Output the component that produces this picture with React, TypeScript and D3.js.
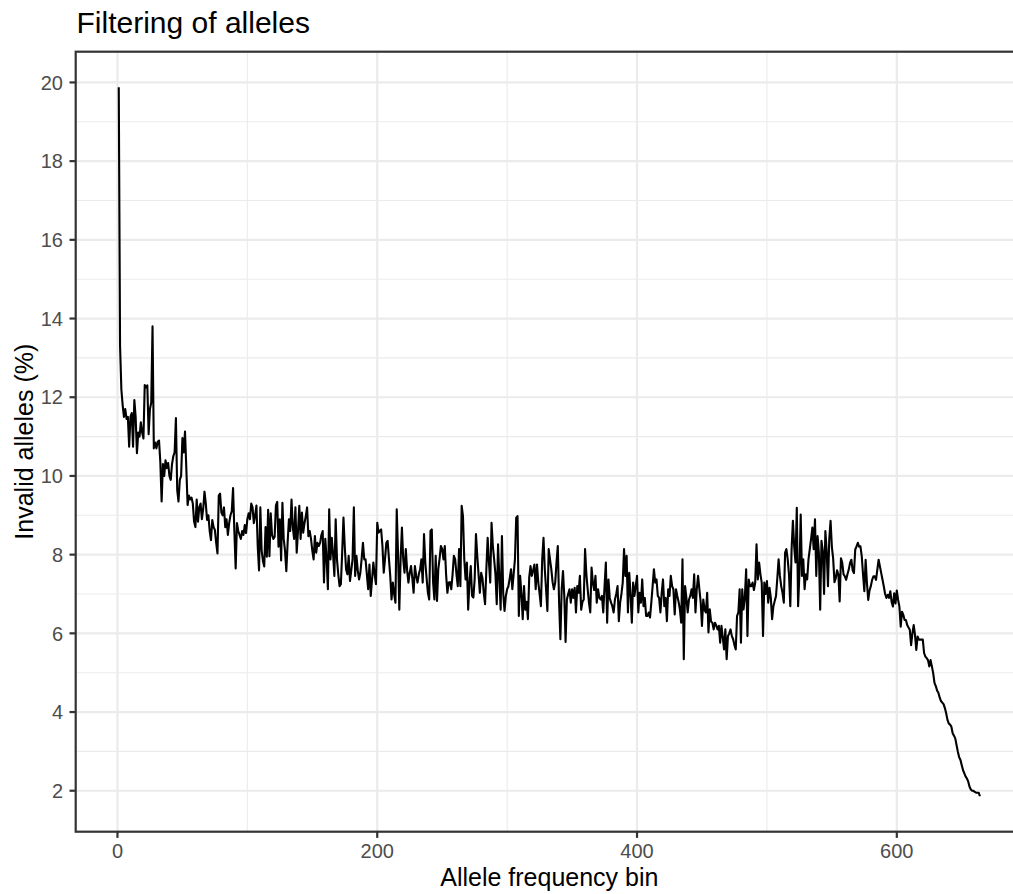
import React from "react";
import * as d3 from "d3";

// Invalid alleles (%) for allele frequency bins 1..664
const invalidPct: number[] = [
  19.88, 13.3, 12.2, 11.8, 11.5, 11.7, 11.45, 11.5, 10.74, 11.5,
  11.6, 10.74, 11.93, 11.5, 10.58, 11.1, 11.0, 11.36, 11.1, 10.95,
  12.31, 12.25, 12.3, 11.06, 11.7, 11.86, 13.8, 10.7, 10.85, 10.7,
  10.87, 10.9, 10.35, 9.35, 10.3, 10.0, 10.4, 10.2, 10.33, 10.0,
  9.9, 10.3, 10.5, 10.6, 11.47, 9.64, 9.35, 9.9, 10.0, 10.96,
  10.6, 11.13, 10.2, 9.26, 9.5, 9.4, 9.45, 9.3, 8.84, 8.7,
  9.4, 8.84, 9.2, 9.3, 8.9, 9.16, 9.6, 9.3, 8.88, 9.0,
  8.6, 8.37, 8.88, 8.7, 8.63, 8.3, 8.03, 9.5, 9.55, 9.07,
  9.0, 9.2, 8.7, 8.9, 8.5, 8.8, 9.0, 9.1, 9.69, 8.6,
  7.65, 8.8, 8.6, 8.5, 8.4, 8.6, 8.5, 8.75, 8.55, 8.9,
  9.05, 8.9, 9.3, 9.2, 8.8, 9.0, 9.25, 8.2, 7.6, 9.2,
  8.1, 7.84, 7.7, 8.7, 7.95, 9.14, 7.96, 9.05, 8.5, 8.4,
  8.45, 9.25, 9.34, 8.2, 8.9, 7.85, 9.32, 8.4, 8.1, 7.58,
  8.3, 8.9, 8.6, 9.4, 8.7, 8.4, 9.2, 8.05, 8.6, 9.24,
  8.4, 9.07, 8.56, 8.8, 8.98, 9.2, 8.47, 8.6, 8.4, 8.1,
  7.88, 8.47, 8.05, 8.3, 8.22, 8.3, 8.5, 8.6, 7.29, 8.4,
  7.9, 7.12, 9.15, 7.88, 8.43, 8.0, 7.46, 8.9, 7.88, 7.5,
  7.2, 7.25, 8.05, 8.94, 8.2, 7.63, 7.5, 7.97, 7.33, 7.6,
  7.88, 9.2, 7.46, 7.97, 7.6, 7.37, 7.54, 7.9, 8.3, 7.88,
  7.88, 7.5, 7.12, 7.75, 6.95, 7.37, 7.8, 7.5, 7.25, 8.81,
  8.56, 8.6, 8.64, 8.22, 7.54, 7.9, 8.3, 8.35, 7.9, 7.46,
  6.86, 7.29, 7.0, 6.78, 9.15, 8.05, 6.6, 7.9, 8.69, 7.88,
  7.54, 8.14, 7.6, 7.29, 7.54, 7.71, 7.4, 7.03, 7.71, 7.46,
  7.29, 7.5, 7.63, 7.88, 7.29, 8.52, 7.8, 7.4, 7.03, 6.86,
  8.6, 8.64, 7.3, 6.86, 7.97, 6.82, 7.63, 7.9, 8.22, 8.14,
  7.88, 8.22, 7.5, 7.03, 7.29, 7.3, 7.12, 7.5, 7.97, 7.88,
  7.5, 7.2, 8.14, 7.2, 9.24, 8.98, 7.88, 7.37, 7.8, 6.6,
  7.29, 7.71, 6.95, 6.91, 7.37, 8.52, 7.97, 7.5, 7.03, 7.54,
  7.4, 7.03, 6.74, 7.63, 8.43, 7.8, 7.29, 8.81, 8.22, 7.88,
  7.5, 6.74, 8.26, 7.4, 6.6, 8.47, 7.0, 6.57, 6.95, 7.12,
  7.2, 7.4, 7.63, 7.12, 7.5, 7.88, 8.94, 8.98, 6.44, 7.46,
  7.0, 6.36, 7.2, 6.6, 6.8, 6.36, 7.42, 7.71, 7.46, 7.6,
  7.75, 7.12, 7.75, 7.29, 7.0, 6.69, 7.88, 8.43, 7.63, 7.1,
  6.57, 8.14, 7.88, 7.63, 7.3, 7.12, 7.29, 7.8, 8.22, 6.78,
  5.85, 7.12, 7.58, 6.95, 5.78, 6.86, 7.0, 7.12, 6.78, 7.12,
  6.9, 7.16, 6.53, 7.2, 7.03, 7.46, 6.6, 6.8, 6.86, 8.14,
  7.5, 7.12, 6.78, 6.53, 7.67, 7.29, 7.1, 7.46, 6.78, 7.12,
  6.9, 6.86, 6.95, 6.53, 7.2, 7.8, 6.27, 7.37, 6.9, 6.78,
  6.69, 6.53, 6.86, 7.0, 7.2, 6.31, 6.78, 7.0, 7.29, 8.14,
  7.46, 7.97, 6.53, 7.54, 7.0, 6.27, 7.29, 6.95, 7.2, 7.46,
  6.53, 7.03, 6.78, 7.37, 6.69, 6.9, 6.44, 6.44, 6.53, 6.4,
  6.78, 7.2, 7.63, 7.29, 7.37, 6.95, 6.9, 6.53, 7.03, 7.37,
  6.69, 6.9, 6.31, 7.12, 6.95, 7.46, 7.2, 7.12, 6.48, 7.12,
  6.95, 6.8, 6.61, 6.27, 7.88, 5.34, 7.2, 6.9, 6.53, 6.86,
  6.95, 7.12, 6.9, 7.5, 6.53, 7.12, 7.46, 7.12, 6.8, 6.19,
  6.86, 6.6, 6.53, 7.03, 6.02, 6.61, 6.3, 6.27, 6.1, 6.27,
  6.2, 6.1, 6.19, 5.76, 6.19, 5.9, 5.59, 6.1, 5.34, 5.93,
  6.0, 6.1, 5.93, 5.85, 5.7, 5.59, 6.44, 6.53, 7.12, 5.76,
  7.12, 6.61, 6.9, 7.63, 5.93, 7.37, 7.2, 7.2, 7.29, 7.1,
  7.29, 8.26, 7.37, 7.8, 7.5, 7.29, 5.93, 7.29, 7.0, 7.33,
  6.78, 7.16, 6.9, 6.36, 6.69, 6.82, 6.95, 7.4, 7.88, 7.46,
  7.2, 7.03, 6.78, 8.05, 8.14, 7.88, 7.5, 6.69, 8.14, 8.86,
  8.2, 7.8, 9.19, 6.69, 7.5, 9.02, 7.46, 7.88, 7.12, 7.5,
  7.37, 7.88, 8.14, 8.4, 8.69, 8.14, 8.9, 7.46, 8.47, 8.05,
  6.6, 8.35, 8.1, 7.0, 8.6, 8.1, 7.2, 8.4, 8.86, 8.2,
  7.9, 7.3, 7.4, 7.6, 7.5, 6.81, 7.91, 7.79, 7.5, 7.45,
  7.36, 7.5, 7.62, 7.79, 7.87, 7.6, 7.53, 8.13, 8.21, 8.3,
  8.2, 8.21, 7.96, 7.5, 7.07, 7.87, 7.28, 6.85, 7.09, 7.2,
  7.36, 7.45, 7.45, 7.36, 7.62, 7.87, 7.7, 7.53, 7.36, 7.19,
  7.0, 6.9, 6.98, 6.9, 7.07, 6.8, 6.68, 7.02, 6.76, 7.09,
  6.85, 6.68, 6.17, 6.55, 6.47, 6.34, 6.34, 6.21, 6.15, 6.09,
  5.7, 6.0, 6.21, 5.96, 5.58, 5.92, 5.84, 5.84, 5.84, 5.84,
  5.5, 5.41, 5.37, 5.32, 5.16, 5.32, 5.16, 4.99, 4.74, 4.66,
  4.55, 4.49, 4.37, 4.28, 4.24, 4.2, 4.1, 3.97, 3.8, 3.71,
  3.68, 3.63, 3.46, 3.4, 3.33, 3.16, 2.99, 2.85, 2.78, 2.65,
  2.52, 2.44, 2.36, 2.31, 2.23, 2.1, 2.03, 2.0, 2.0, 1.97,
  1.95, 1.95, 1.95, 1.86,
];

const xTicks: number[] = [0, 200, 400, 600];
const xMinor: number[] = [100, 300, 500];
const yTicks: number[] = [2, 4, 6, 8, 10, 12, 14, 16, 18, 20];
const yMinor: number[] = [3, 5, 7, 9, 11, 13, 15, 17, 19];

const title = "Filtering of alleles";
const xLabel = "Allele frequency bin";
const yLabel = "Invalid alleles (%)";

const W = 1013;
const H = 894;
const panel = { left: 75.7, right: 1023, top: 51.7, bottom: 831.7 };
const FONT = "'Liberation Sans', Arial, Helvetica, sans-serif";

function expand(ext: [number, number], f = 0.05): [number, number] {
  const r = ext[1] - ext[0];
  return [ext[0] - r * f, ext[1] + r * f];
}

export default function App() {
  const points = invalidPct.map((v, i) => ({ bin: i + 1, v }));
  const x = d3
    .scaleLinear()
    .domain(expand(d3.extent(points, (d) => d.bin) as [number, number]))
    .range([panel.left, panel.right]);
  const y = d3
    .scaleLinear()
    .domain(expand(d3.extent(points, (d) => d.v) as [number, number]))
    .range([panel.bottom, panel.top]);

  const line = d3
    .line<{ bin: number; v: number }>()
    .x((d) => x(d.bin))
    .y((d) => y(d.v));

  const grid = "#EBEBEB";
  const dark = "#333333";
  const lw = 2.2;

  return (
    <svg
      width={W}
      height={H}
      style={{ position: "absolute", left: 0, top: 0, background: "#fff" }}
      fontFamily={FONT}
    >
      <rect x={0} y={0} width={W} height={H} fill="#fff" />
      {/* minor grid */}
      {yMinor.map((t) => (
        <line key={"ym" + t} x1={panel.left} x2={panel.right} y1={y(t)} y2={y(t)} stroke={grid} strokeWidth={lw / 2} />
      ))}
      {xMinor.map((t) => (
        <line key={"xm" + t} x1={x(t)} x2={x(t)} y1={panel.top} y2={panel.bottom} stroke={grid} strokeWidth={lw / 2} />
      ))}
      {/* major grid */}
      {yTicks.map((t) => (
        <line key={"yg" + t} x1={panel.left} x2={panel.right} y1={y(t)} y2={y(t)} stroke={grid} strokeWidth={lw} />
      ))}
      {xTicks.map((t) => (
        <line key={"xg" + t} x1={x(t)} x2={x(t)} y1={panel.top} y2={panel.bottom} stroke={grid} strokeWidth={lw} />
      ))}
      {/* data line */}
      <path d={line(points) || ""} fill="none" stroke="#000" strokeWidth={2.1} strokeLinejoin="round" />
      {/* panel border */}
      <rect
        x={panel.left}
        y={panel.top}
        width={panel.right - panel.left}
        height={panel.bottom - panel.top}
        fill="none"
        stroke={dark}
        strokeWidth={lw}
      />
      {/* y ticks */}
      {yTicks.map((t) => (
        <g key={"yt" + t}>
          <line x1={panel.left - 6.2} x2={panel.left} y1={y(t)} y2={y(t)} stroke={dark} strokeWidth={lw} />
          <text x={63} y={y(t)} dy="0.36em" textAnchor="end" fontSize={20} fill="#4D4D4D">
            {t}
          </text>
        </g>
      ))}
      {/* x ticks */}
      {xTicks.map((t) => (
        <g key={"xt" + t}>
          <line x1={x(t)} x2={x(t)} y1={panel.bottom} y2={panel.bottom + 6.2} stroke={dark} strokeWidth={lw} />
          <text x={x(t)} y={858.3} textAnchor="middle" fontSize={20} fill="#4D4D4D">
            {t}
          </text>
        </g>
      ))}
      {/* axis titles */}
      <text x={(panel.left + panel.right) / 2} y={885.5} textAnchor="middle" fontSize={25} fill="#000">
        {xLabel}
      </text>
      <text
        transform={`translate(32.5, ${(panel.top + panel.bottom) / 2}) rotate(-90)`}
        textAnchor="middle"
        fontSize={25}
        fill="#000"
      >
        {yLabel}
      </text>
      {/* title */}
      <text x={76.5} y={32.7} fontSize={30} fill="#000">
        {title}
      </text>
    </svg>
  );
}
